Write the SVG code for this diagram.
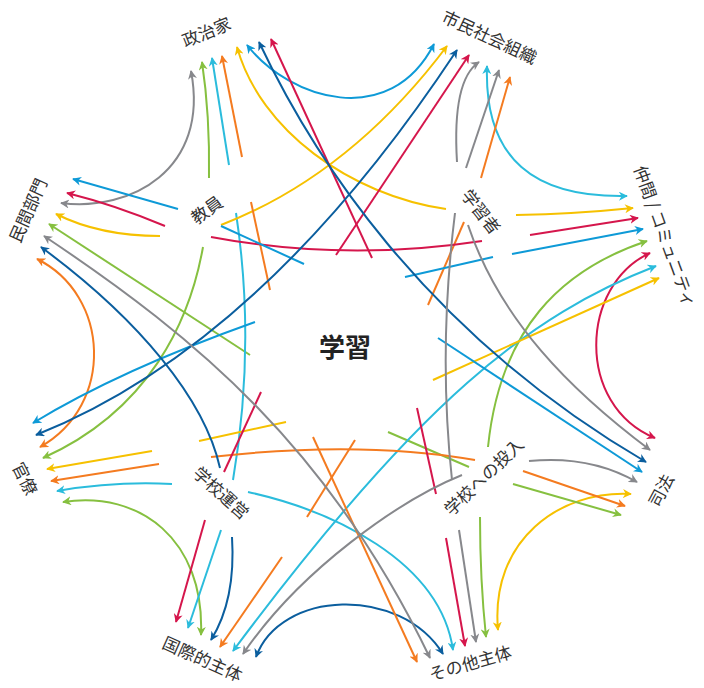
<svg xmlns="http://www.w3.org/2000/svg" width="704" height="688" viewBox="0 0 704 688">
<style>
path{fill:none;stroke-width:2;stroke-linecap:butt}
.gy{stroke:#87888c}.gn{stroke:#86c040}.cy{stroke:#2bbcdc}.or{stroke:#f47b20}.ye{stroke:#f6c100}.sb{stroke:#0e9ad7}.db{stroke:#0b5e9e}.rd{stroke:#d5164c}
text{font-family:"Noto Sans CJK JP","Noto Sans",sans-serif;font-size:17px;fill:#333;text-anchor:middle;dominant-baseline:central}
.c{font-size:26px;font-weight:bold;fill:#222}
</style>
<defs>
<marker id="m-gy" viewBox="0 0 10 10" refX="9" refY="5" markerWidth="9" markerHeight="9" markerUnits="userSpaceOnUse" orient="auto-start-reverse"><path d="M0,0 L10,5 L0,10 L3,5z" style="fill:#87888c;stroke:none"/></marker>
<marker id="m-gn" viewBox="0 0 10 10" refX="9" refY="5" markerWidth="9" markerHeight="9" markerUnits="userSpaceOnUse" orient="auto-start-reverse"><path d="M0,0 L10,5 L0,10 L3,5z" style="fill:#86c040;stroke:none"/></marker>
<marker id="m-cy" viewBox="0 0 10 10" refX="9" refY="5" markerWidth="9" markerHeight="9" markerUnits="userSpaceOnUse" orient="auto-start-reverse"><path d="M0,0 L10,5 L0,10 L3,5z" style="fill:#2bbcdc;stroke:none"/></marker>
<marker id="m-or" viewBox="0 0 10 10" refX="9" refY="5" markerWidth="9" markerHeight="9" markerUnits="userSpaceOnUse" orient="auto-start-reverse"><path d="M0,0 L10,5 L0,10 L3,5z" style="fill:#f47b20;stroke:none"/></marker>
<marker id="m-ye" viewBox="0 0 10 10" refX="9" refY="5" markerWidth="9" markerHeight="9" markerUnits="userSpaceOnUse" orient="auto-start-reverse"><path d="M0,0 L10,5 L0,10 L3,5z" style="fill:#f6c100;stroke:none"/></marker>
<marker id="m-sb" viewBox="0 0 10 10" refX="9" refY="5" markerWidth="9" markerHeight="9" markerUnits="userSpaceOnUse" orient="auto-start-reverse"><path d="M0,0 L10,5 L0,10 L3,5z" style="fill:#0e9ad7;stroke:none"/></marker>
<marker id="m-db" viewBox="0 0 10 10" refX="9" refY="5" markerWidth="9" markerHeight="9" markerUnits="userSpaceOnUse" orient="auto-start-reverse"><path d="M0,0 L10,5 L0,10 L3,5z" style="fill:#0b5e9e;stroke:none"/></marker>
<marker id="m-rd" viewBox="0 0 10 10" refX="9" refY="5" markerWidth="9" markerHeight="9" markerUnits="userSpaceOnUse" orient="auto-start-reverse"><path d="M0,0 L10,5 L0,10 L3,5z" style="fill:#d5164c;stroke:none"/></marker>
</defs>
<rect width="704" height="688" fill="#fff"/>
<g id="connectors">
<!-- adjacent double arcs -->
<path class="sb" d="M247,45 C290,100 390,130 434,44" marker-start="url(#m-sb)" marker-end="url(#m-sb)"/>
<path class="cy" d="M487,66 C484,160 535,198 627,196" marker-start="url(#m-cy)" marker-end="url(#m-cy)"/>
<path class="rd" d="M650,253 C580,285 575,405 655,438" marker-start="url(#m-rd)" marker-end="url(#m-rd)"/>
<path class="ye" d="M631,494 C560,490 490,540 498,630" marker-start="url(#m-ye)" marker-end="url(#m-ye)"/>
<path class="db" d="M443,654 C400,585 280,590 256,657" marker-start="url(#m-db)" marker-end="url(#m-db)"/>
<path class="gn" d="M201,635 C205,540 140,490 63,502" marker-start="url(#m-gn)" marker-end="url(#m-gn)"/>
<path class="or" d="M40,447 C115,405 110,295 37,259" marker-start="url(#m-or)" marker-end="url(#m-or)"/>
<path class="gy" d="M61,203 C130,212 210,170 191,71" marker-start="url(#m-gy)" marker-end="url(#m-gy)"/>
<!-- green -->
<path class="gn" d="M209,178 Q210,115 202,62" marker-end="url(#m-gn)"/>
<path class="gn" d="M203,247 C190,320 150,410 43,458" marker-end="url(#m-gn)"/>
<path class="gn" d="M250,355 L49,224" marker-end="url(#m-gn)"/>
<path class="gn" d="M388,432 L469,467"/>
<path class="gn" d="M513,484 L621,515" marker-end="url(#m-gn)"/>
<path class="gn" d="M488,447 C500,330 560,270 647,241" marker-end="url(#m-gn)"/>
<path class="gn" d="M480,517 Q480,580 486,637" marker-end="url(#m-gn)"/>
<!-- cyan -->
<path class="cy" d="M229,165 L212,58" marker-end="url(#m-cy)"/>
<path class="cy" d="M236,213 Q256,345 233,480"/>
<path class="cy" d="M221,530 L188,628" marker-end="url(#m-cy)"/>
<path class="cy" d="M656,266 C530,315 420,400 233,651" marker-start="url(#m-cy)" marker-end="url(#m-cy)"/>
<path class="cy" d="M172,484 Q115,481 57,491" marker-end="url(#m-cy)"/>
<path class="cy" d="M248,492 C330,510 440,560 453,650" marker-end="url(#m-cy)"/>
<!-- yellow -->
<path class="ye" d="M446,209 C350,195 260,130 237,47" marker-end="url(#m-ye)"/>
<path class="ye" d="M516,215 Q575,214 633,208" marker-end="url(#m-ye)"/>
<path class="ye" d="M221,225 Q350,175 447,46" marker-end="url(#m-ye)"/>
<path class="ye" d="M160,236 Q100,236 56,214" marker-end="url(#m-ye)"/>
<path class="ye" d="M433,380 L659,278" marker-end="url(#m-ye)"/>
<path class="ye" d="M199,441 L286,422"/>
<path class="ye" d="M152,451 L47,469" marker-end="url(#m-ye)"/>
<!-- orange -->
<path class="or" d="M242,157 L222,56" marker-end="url(#m-or)"/>
<path class="or" d="M251,202 L270,290"/>
<path class="or" d="M313,437 L417,662" marker-end="url(#m-or)"/>
<path class="or" d="M481,178 L510,77" marker-end="url(#m-or)"/>
<path class="or" d="M464,222 L428,305"/>
<path class="or" d="M355,440 L307,517"/>
<path class="or" d="M282,557 L220,647" marker-end="url(#m-or)"/>
<path class="or" d="M159,464 L51,481" marker-end="url(#m-or)"/>
<path class="or" d="M211,457 Q360,440 475,460"/>
<path class="or" d="M523,471 L625,506" marker-end="url(#m-or)"/>
<!-- red -->
<path class="rd" d="M372,258 L271,39" marker-end="url(#m-rd)"/>
<path class="rd" d="M417,408 L436,494"/>
<path class="rd" d="M446,538 L465,646" marker-end="url(#m-rd)"/>
<path class="rd" d="M336,255 L469,55" marker-end="url(#m-rd)"/>
<path class="rd" d="M261,392 L224,472"/>
<path class="rd" d="M205,520 L176,622" marker-end="url(#m-rd)"/>
<path class="rd" d="M165,226 Q115,205 67,193" marker-end="url(#m-rd)"/>
<path class="rd" d="M211,237 Q345,262 482,241"/>
<path class="rd" d="M530,235 L638,218" marker-end="url(#m-rd)"/>
<!-- sky blue -->
<path class="sb" d="M178,209 L73,179" marker-end="url(#m-sb)"/>
<path class="sb" d="M221,226 L304,264"/>
<path class="sb" d="M438,338 L642,472" marker-end="url(#m-sb)"/>
<path class="sb" d="M512,254 L643,229" marker-end="url(#m-sb)"/>
<path class="sb" d="M405,277 L493,257"/>
<path class="sb" d="M255,322 Q120,370 33,423" marker-end="url(#m-sb)"/>
<!-- dark blue -->
<path class="db" d="M259,42 C310,150 420,330 646,462" marker-start="url(#m-db)" marker-end="url(#m-db)"/>
<path class="db" d="M457,50 Q262,345 36,435" marker-start="url(#m-db)" marker-end="url(#m-db)"/>
<path class="db" d="M220,468 C205,400 140,320 41,247" marker-end="url(#m-db)"/>
<path class="db" d="M232,537 Q236,600 211,640" marker-end="url(#m-db)"/>
<!-- gray -->
<path class="gy" d="M44,236 C200,340 330,450 430,658" marker-start="url(#m-gy)" marker-end="url(#m-gy)"/>
<path class="gy" d="M457,162 Q452,80 479,62" marker-end="url(#m-gy)"/>
<path class="gy" d="M455,213 Q438,350 452,480"/>
<path class="gy" d="M459,530 L476,642" marker-end="url(#m-gy)"/>
<path class="gy" d="M466,168 L499,70" marker-end="url(#m-gy)"/>
<path class="gy" d="M468,225 C500,320 570,390 650,450" marker-end="url(#m-gy)"/>
<path class="gy" d="M462,475 C400,500 300,570 243,654" marker-end="url(#m-gy)"/>
<path class="gy" d="M529,461 Q590,455 637,482" marker-end="url(#m-gy)"/>
</g>
<g id="n-seijika"><text transform="translate(206,31) rotate(-22)">政治家</text></g>
<g id="n-shimin"><text transform="translate(490,36) rotate(25)">市民社会組織</text></g>
<g id="n-nakama"><text transform="translate(666,236) rotate(70)">仲間 / コミュニティ</text></g>
<g id="n-shiho"><text transform="translate(660,490) rotate(-62)">司法</text></g>
<g id="n-sonota"><text transform="translate(470,662) rotate(-16)">その他主体</text></g>
<g id="n-kokusai"><text transform="translate(203,658) rotate(24)">国際的主体</text></g>
<g id="n-kanryo"><text transform="translate(26,478) rotate(63)">官僚</text></g>
<g id="n-minkan"><text transform="translate(27,210) rotate(-66)">民間部門</text></g>
<g id="n-kyoin"><text transform="translate(206,209) rotate(-36)">教員</text></g>
<g id="n-gakushusha"><text transform="translate(482,211) rotate(52)">学習者</text></g>
<g id="n-unei"><text transform="translate(222,492) rotate(42)">学校運営</text></g>
<g id="n-tonyu"><text transform="translate(483,476) rotate(-44)">学校への投入</text></g>
<g id="n-center"><text class="c" x="345" y="345">学習</text></g>
</svg>
